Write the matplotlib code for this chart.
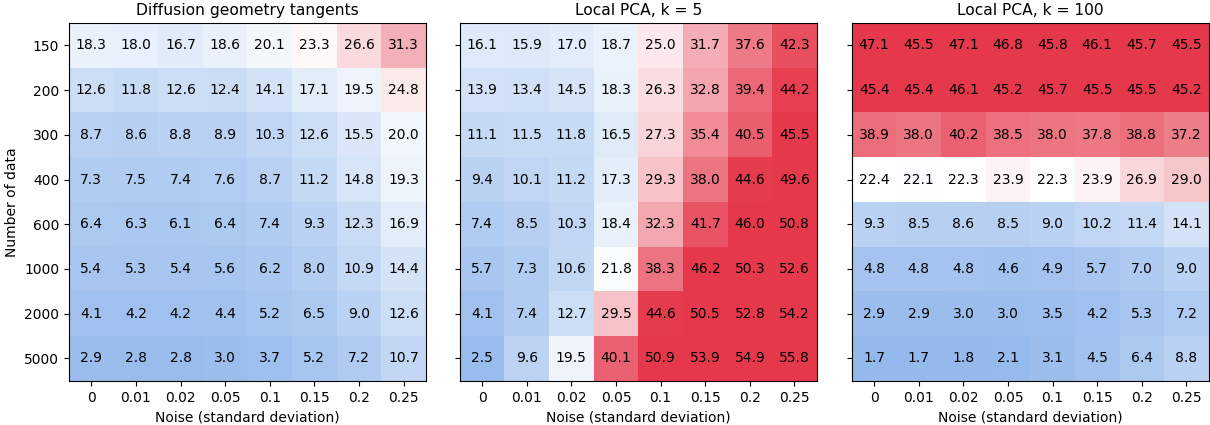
import numpy as np
import matplotlib.pyplot as plt
from matplotlib.colors import LinearSegmentedColormap

# grid of experiments
noise_labels = ['0', '0.01', '0.02', '0.05', '0.1', '0.15', '0.2', '0.25']
n_data_labels = ['150', '200', '300', '400', '600', '1000', '2000', '5000']
titles = ['Diffusion geometry tangents', 'Local PCA, k = 5', 'Local PCA, k = 100']

# tangent error per (number of data, noise)
diffusion_err = [
    [18.3, 18.0, 16.7, 18.6, 20.1, 23.3, 26.6, 31.3],
    [12.6, 11.8, 12.6, 12.4, 14.1, 17.1, 19.5, 24.8],
    [8.7, 8.6, 8.8, 8.9, 10.3, 12.6, 15.5, 20.0],
    [7.3, 7.5, 7.4, 7.6, 8.7, 11.2, 14.8, 19.3],
    [6.4, 6.3, 6.1, 6.4, 7.4, 9.3, 12.3, 16.9],
    [5.4, 5.3, 5.4, 5.6, 6.2, 8.0, 10.9, 14.4],
    [4.1, 4.2, 4.2, 4.4, 5.2, 6.5, 9.0, 12.6],
    [2.9, 2.8, 2.8, 3.0, 3.7, 5.2, 7.2, 10.7],
]
pca5_err = [
    [16.1, 15.9, 17.0, 18.7, 25.0, 31.7, 37.6, 42.3],
    [13.9, 13.4, 14.5, 18.3, 26.3, 32.8, 39.4, 44.2],
    [11.1, 11.5, 11.8, 16.5, 27.3, 35.4, 40.5, 45.5],
    [9.4, 10.1, 11.2, 17.3, 29.3, 38.0, 44.6, 49.6],
    [7.4, 8.5, 10.3, 18.4, 32.3, 41.7, 46.0, 50.8],
    [5.7, 7.3, 10.6, 21.8, 38.3, 46.2, 50.3, 52.6],
    [4.1, 7.4, 12.7, 29.5, 44.6, 50.5, 52.8, 54.2],
    [2.5, 9.6, 19.5, 40.1, 50.9, 53.9, 54.9, 55.8],
]
pca100_err = [
    [47.1, 45.5, 47.1, 46.8, 45.8, 46.1, 45.7, 45.5],
    [45.4, 45.4, 46.1, 45.2, 45.7, 45.5, 45.5, 45.2],
    [38.9, 38.0, 40.2, 38.5, 38.0, 37.8, 38.8, 37.2],
    [22.4, 22.1, 22.3, 23.9, 22.3, 23.9, 26.9, 29.0],
    [9.3, 8.5, 8.6, 8.5, 9.0, 10.2, 11.4, 14.1],
    [4.8, 4.8, 4.8, 4.6, 4.9, 5.7, 7.0, 9.0],
    [2.9, 2.9, 3.0, 3.0, 3.5, 4.2, 5.3, 7.2],
    [1.7, 1.7, 1.8, 2.1, 3.1, 4.5, 6.4, 8.8],
]

cmap = LinearSegmentedColormap.from_list('bwr_soft', ['#8cb4eb', '#ffffff', '#e5394b'])

fig = plt.figure(figsize=(12.1, 4.25), dpi=100)
lefts = [0.057, 0.380, 0.704]
axes = [fig.add_axes([l, 0.104, 0.295, 0.842]) for l in lefts]

for ax, title, err in zip(axes, titles, [diffusion_err, pca5_err, pca100_err]):
    data = np.array(err)
    ax.imshow(data, cmap=cmap, vmin=0, vmax=45, aspect='auto')
    for i in range(data.shape[0]):
        for j in range(data.shape[1]):
            ax.text(j, i, f'{data[i, j]:.1f}', ha='center', va='center',
                    fontsize=10, color='black')
    ax.set_xticks(np.arange(len(noise_labels)))
    ax.set_xticklabels(noise_labels)
    ax.set_yticks(np.arange(len(n_data_labels)))
    ax.set_yticklabels(n_data_labels)
    ax.set_xlabel('Noise (standard deviation)')
    ax.set_title(title, fontsize=11.2)

axes[0].set_ylabel('Number of data')
for ax in axes[1:]:
    ax.set_yticklabels([])

plt.savefig('out.png', dpi=100)
